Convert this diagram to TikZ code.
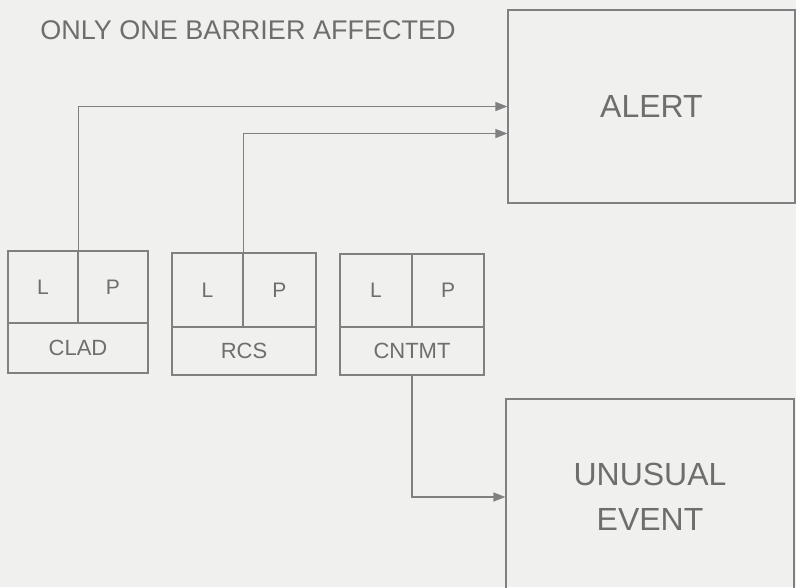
\documentclass[tikz,border=0pt]{standalone}
\usepackage{fontspec}
\setmainfont{Liberation Sans}
\usetikzlibrary{arrows.meta}
\definecolor{bg}{HTML}{F0F0EE}
\definecolor{ink}{HTML}{6E6E6E}
\definecolor{ln}{HTML}{808080}
\begin{document}
\begin{tikzpicture}[x=1pt,y=-1pt,
  box/.style={draw=ln, line width=1.2pt, rectangle, inner sep=0pt, text=ink},
  cell/.style={box, minimum width=70pt, minimum height=72pt, font=\fontsize{21}{24}\selectfont},
  namecell/.style={box, minimum width=140pt, minimum height=50pt, font=\fontsize{22}{26}\selectfont},
  bigbox/.style={box, font=\fontsize{32}{45}\selectfont, align=center},
  conn/.style={draw=ln, line width=1.2pt, -{Triangle[length=12pt,width=9pt]}}
]
\fill[bg] (0,0) rectangle (796,587);
\useasboundingbox (0,0) rectangle (796,587);
\clip (0,0) rectangle (796,587);

\node[text=ink, font=\fontsize{27}{30}\selectfont] (title) at (248,30) {ONLY ONE BARRIER AFFECTED};

\node[bigbox, minimum width=287pt, minimum height=193pt] (alert) at (651.5,106.5) {ALERT};
\node[bigbox, minimum width=288pt, minimum height=196pt] (unusual) at (650,497) {UNUSUAL\\EVENT};

% CLAD
\node[cell] (cladL) at (43,287) {L};
\node[cell] (cladP) at (113,287) {P};
\node[namecell] (cladN) at (78,348) {CLAD};
% RCS
\node[cell, minimum width=71pt, minimum height=74pt] (rcsL) at (207.5,290) {L};
\node[cell, minimum width=73pt, minimum height=74pt] (rcsP) at (279.5,290) {P};
\node[namecell, minimum width=144pt, minimum height=48pt] (rcsN) at (244,351) {RCS};
% CNTMT
\node[cell, minimum width=72pt, minimum height=73pt] (cntL) at (376,290.5) {L};
\node[cell, minimum width=72pt, minimum height=73pt] (cntP) at (448,290.5) {P};
\node[namecell, minimum width=144pt, minimum height=48pt] (cntN) at (412,351) {CNTMT};

\draw[conn] (cladL.north east) |- (alert.west);
\draw[conn] (rcsL.north east) |- ([yshift=-27pt]alert.west);
\draw[conn] (cntN.south) |- (unusual.west);
\end{tikzpicture}
\end{document}
